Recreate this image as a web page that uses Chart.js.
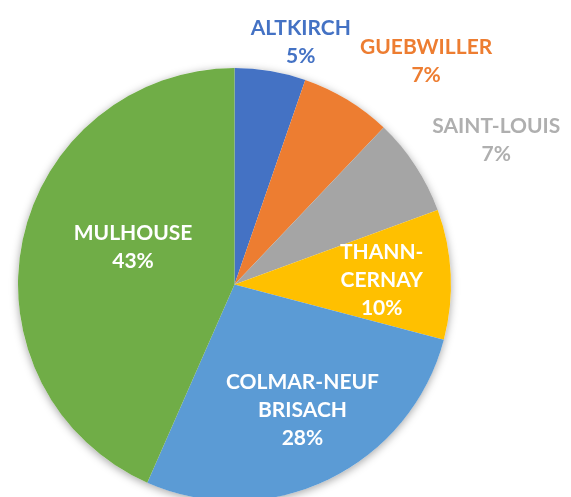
<!DOCTYPE html>
<html>
<head>
<meta charset="utf-8">
<script src="https://cdn.jsdelivr.net/npm/chart.js@4/dist/chart.umd.min.js"></script>
<style>
  html, body { margin: 0; padding: 0; background: #fff; overflow: hidden; }
  body { width: 571px; height: 497px; }
  #wrap { width: 571px; height: 501px; }
</style>
</head>
<body>
<div id="wrap"><canvas id="chart"></canvas></div>
<script>
"use strict";

const CATEGORIES = ["ALTKIRCH", "GUEBWILLER", "SAINT-LOUIS", "THANN-CERNAY", "COLMAR-NEUF BRISACH", "MULHOUSE"];
const LABEL_LINES = [["ALTKIRCH"], ["GUEBWILLER"], ["SAINT-LOUIS"], ["THANN-", "CERNAY"], ["COLMAR-NEUF", "BRISACH"], ["MULHOUSE"]];
const SHARES = [5.3, 6.8, 7.3, 9.7, 27.5, 43.4];
const COLORS = ["#4472C4", "#ED7D31", "#A5A5A5", "#FFC000", "#5B9BD5", "#70AD47"];

// label text colour + placement (angle from 12 o'clock, fraction of radius)
const LABEL_STYLE = [
  { color: "#4472C4", angle: 15.3, r: 1.16 },
  { color: "#ED7D31", angle: 40.6, r: 1.36 },
  { color: "#AFAFAF", angle: 61.2, r: 1.38 },
  { color: "#FFFFFF", angle: 88.5, r: 0.68 },
  { color: "#FFFFFF", angle: 151.6, r: 0.66 },
  { color: "#FFFFFF", angle: 290.4, r: 0.5 },
];
const FONT = "bold 21px Lato, 'Open Sans', sans-serif";
const LINE_H = 28;

const pct = (v) => `${Math.round(v)}%`;

// soft drop shadow behind the whole pie (drawn once so inner edges stay clean)
const pieShadow = {
  id: "pieShadow",
  beforeDatasetsDraw(chart) {
    const arc = chart.getDatasetMeta(0).data[0];
    if (!arc) return;
    const ctx = chart.ctx;
    ctx.save();
    ctx.shadowColor = "rgba(0,0,0,0.35)";
    ctx.shadowBlur = 9;
    ctx.shadowOffsetY = 2;
    ctx.fillStyle = "#ffffff";
    ctx.beginPath();
    ctx.arc(arc.x, arc.y, arc.outerRadius, 0, Math.PI * 2);
    ctx.fill();
    ctx.restore();
  },
};

const sliceLabels = {
  id: "sliceLabels",
  afterDatasetsDraw(chart) {
    const meta = chart.getDatasetMeta(0);
    const ctx = chart.ctx;
    ctx.save();
    ctx.font = FONT;
    ctx.textAlign = "center";
    ctx.textBaseline = "middle";
    meta.data.forEach((arc, i) => {
      const st = LABEL_STYLE[i];
      const a = (st.angle * Math.PI) / 180;
      const cx = arc.x + Math.sin(a) * arc.outerRadius * st.r;
      const cy = arc.y - Math.cos(a) * arc.outerRadius * st.r;
      const lines = [...LABEL_LINES[i], pct(SHARES[i])];
      const top = cy - ((lines.length - 1) * LINE_H) / 2;
      ctx.fillStyle = st.color;
      lines.forEach((t, k) => ctx.fillText(t, cx, top + k * LINE_H));
    });
    ctx.restore();
  },
};

new Chart(document.getElementById("chart"), {
  type: "pie",
  data: {
    labels: CATEGORIES,
    datasets: [{ data: SHARES, backgroundColor: COLORS, borderWidth: 0, hoverOffset: 0 }],
  },
  options: {
    responsive: true,
    maintainAspectRatio: false,
    animation: false,
    layout: { padding: { left: 18, right: 120, top: 68, bottom: 0 } },
    plugins: { legend: { display: false }, tooltip: { enabled: false } },
  },
  plugins: [pieShadow, sliceLabels],
});
</script>
</body>
</html>
